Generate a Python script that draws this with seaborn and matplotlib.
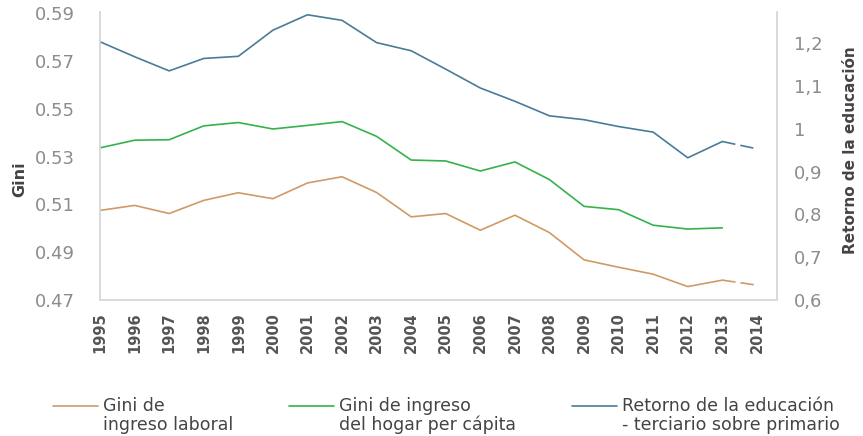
import matplotlib
matplotlib.use('Agg')
import matplotlib.pyplot as plt
import seaborn as sns
import pandas as pd
import numpy as np

years = list(range(1995, 2015))
gini_laboral = [0.5075, 0.5096, 0.5062, 0.5117, 0.5149, 0.5124, 0.5190, 0.5216, 0.5150, 0.5048,
                0.5062, 0.4992, 0.5055, 0.4982, 0.4868, 0.4837, 0.4808, 0.4756, 0.4783, 0.4762]
gini_hogar = [0.5337, 0.5369, 0.5371, 0.5429, 0.5443, 0.5416, 0.5431, 0.5447, 0.5385, 0.5286,
              0.5282, 0.5240, 0.5278, 0.5204, 0.5092, 0.5078, 0.5013, 0.4997, 0.5002, np.nan]
retorno = [1.203, 1.168, 1.135, 1.164, 1.169, 1.230, 1.266, 1.253, 1.201, 1.182,
           1.139, 1.095, 1.064, 1.030, 1.021, 1.005, 0.992, 0.932, 0.970, 0.953]

left_ticks = [0.47, 0.49, 0.51, 0.53, 0.55, 0.57, 0.59]
right_ticks = [0.6, 0.7, 0.8, 0.9, 1.0, 1.1, 1.2]
right_labels = ['0,6', '0,7', '0,8', '0,9', '1', '1,1', '1,2']

c_lab = '#d09a66'
c_hog = '#35b24a'
c_ret = '#4a7b99'

df = pd.DataFrame({'year': years, 'lab': gini_laboral, 'hog': gini_hogar, 'ret': retorno})
solid = df[df['year'] <= 2013]
tail = df[df['year'] >= 2013]

sns.set_style('white')
plt.rcParams['font.family'] = ['DejaVu Sans']

fig = plt.figure(figsize=(8.63, 4.36), dpi=100)
ax = fig.add_axes([0.1159, 0.312, 0.7844, 0.660])
ax2 = ax.twinx()

sns.lineplot(data=solid, x='year', y='lab', ax=ax, color=c_lab, lw=1.2, label='Gini de\ningreso laboral', legend=False)
sns.lineplot(data=solid, x='year', y='hog', ax=ax, color=c_hog, lw=1.2, label='Gini de ingreso\ndel hogar per cápita', legend=False)
sns.lineplot(data=tail, x='year', y='lab', ax=ax, color=c_lab, lw=1.2, legend=False)
ax.lines[-1].set_dashes((8, 3))
sns.lineplot(data=solid, x='year', y='ret', ax=ax2, color=c_ret, lw=1.2, label='Retorno de la educación\n- terciario sobre primario', legend=False)
sns.lineplot(data=tail, x='year', y='ret', ax=ax2, color=c_ret, lw=1.2, legend=False)
ax2.lines[-1].set_dashes((8, 3))

ax.set_xlim(1995, 2014.58)
ax.set_ylim(0.47, 0.5905)
ax2.set_ylim(0.6, 1.272)

ax.set_xticks(years)
ax.set_xticklabels([str(y) for y in years], rotation=90, fontsize=10.5, fontweight='bold', color='#555555')
ax.set_yticks(left_ticks)
ax.set_yticklabels([f'{t:.2f}' for t in left_ticks], fontsize=13, color='#8c8c8c')
ax2.set_yticks(right_ticks)
ax2.set_yticklabels(right_labels, fontsize=13, color='#8c8c8c')

ax.tick_params(axis='x', length=0, pad=9)
ax.tick_params(axis='y', length=0, pad=18)
ax2.tick_params(axis='y', length=0, pad=12)

ax.set_xlabel('')
ax.set_ylabel('Gini', fontsize=11.5, fontweight='bold', color='#444444')
ax.yaxis.set_label_coords(-0.107, 0.42)
ax2.set_ylabel('Retorno de la educación', fontsize=11, fontweight='bold', color='#444444', rotation=90)
ax2.yaxis.set_label_coords(1.097, 0.52)

for a in (ax, ax2):
    a.grid(False)
    a.spines['top'].set_visible(False)
    for s in ['left', 'bottom', 'right']:
        a.spines[s].set_color('#d9d9d9')
        a.spines[s].set_linewidth(1.2)

h1, l1 = ax.get_legend_handles_labels()
h2, l2 = ax2.get_legend_handles_labels()
leg = fig.legend(h1 + h2, l1 + l2, loc='upper center', bbox_to_anchor=(0.517, 0.125), ncol=3,
                 frameon=False, fontsize=12.5, handlelength=2.6, handletextpad=0.3,
                 columnspacing=3.2, labelcolor='#444444')
for t in leg.get_texts():
    t.set_linespacing(1.05)
# put the legend line next to the first text line
for ln in leg.get_lines():
    ln.set_ydata(np.asarray(ln.get_ydata()) + 8)

fig.savefig('out.png', dpi=100)
